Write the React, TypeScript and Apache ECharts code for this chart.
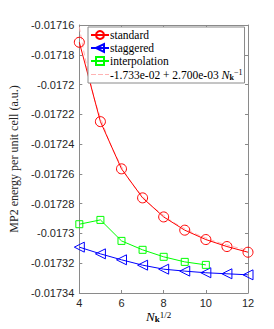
import React, { useEffect, useRef } from "react";
import * as echarts from "echarts";

const xs = [4, 5, 6, 7, 8, 9, 10, 11, 12];
const standard = [-0.0171716, -0.0172249, -0.0172566, -0.0172761, -0.0172889, -0.0172978, -0.0173041, -0.0173088, -0.0173126];
const staggered = [-0.0173092, -0.0173137, -0.0173177, -0.0173213, -0.017324, -0.0173253, -0.0173264, -0.0173271, -0.0173278];
const interpX = [4, 5, 6, 7, 8, 9, 10];
const interpolation = [-0.0172938, -0.0172909, -0.017305, -0.017311, -0.0173157, -0.0173191, -0.0173211];
const fitX = [4, 4.5, 5, 6, 7, 8, 9, 10, 11, 12];
const fitY = [-0.0171613, -0.0171967, -0.017222, -0.017255, -0.0172749, -0.0172878, -0.0172967, -0.017303, -0.0173077, -0.0173113];
const fitLabel = "-1.733e-02 + 2.700e-03";

const pair = (x: number[], y: number[]) => x.map((v, i) => [v, y[i]]);

export default function App() {
  const ref = useRef<HTMLDivElement>(null);
  useEffect(() => {
    const chart = echarts.init(ref.current!, null, { renderer: "svg" });
    const serif = "'Liberation Serif', 'DejaVu Serif', serif";
    const axisCol = "#8a8a8a";
    const tickLbl = { fontFamily: "'Liberation Sans', Arial, sans-serif", fontSize: 11, color: "#262626" };
    const dashIcon =
      "path://M0,0h0.01v0.01h-0.01zM0,4.5h5v1h-5zM7,4.5h5v1h-5zM14,4.5h4v1h-4zM17.99,9.99h0.01v0.01h-0.01z";
    chart.setOption({
      animation: false,
      backgroundColor: "#ffffff",
      grid: { left: 69, right: 26, top: 25, bottom: 36 },
      xAxis: [
        {
          type: "value", min: 4, max: 12, interval: 2,
          axisLine: { lineStyle: { color: axisCol } },
          axisTick: { inside: true, length: 3, lineStyle: { color: axisCol } },
          axisLabel: { ...tickLbl, margin: 4, lineHeight: 11 },
          splitLine: { show: false },
        },
        {
          type: "value", min: 4, max: 12, interval: 2, position: "top",
          axisLine: { lineStyle: { color: axisCol } },
          axisTick: { inside: true, length: 3, lineStyle: { color: axisCol } },
          axisLabel: { show: false }, splitLine: { show: false },
        },
      ],
      yAxis: [
        {
          type: "value", min: -0.01734, max: -0.01716, interval: 0.00002,
          axisLine: { show: true, lineStyle: { color: axisCol } },
          axisTick: { show: true, inside: true, length: 3, lineStyle: { color: axisCol } },
          axisLabel: { ...tickLbl, margin: 5, formatter: (v: number) => String(parseFloat(v.toFixed(5))) },
          splitLine: { show: false },
          name: "MP2 energy per unit cell (a.u.)",
          nameLocation: "middle", nameGap: 51,
          nameTextStyle: { fontFamily: serif, fontSize: 12, color: "#262626" },
        },
        {
          type: "value", min: -0.01734, max: -0.01716, interval: 0.00002, position: "right",
          axisLine: { show: true, lineStyle: { color: axisCol } },
          axisTick: { show: true, inside: true, length: 3, lineStyle: { color: axisCol } },
          axisLabel: { show: false }, splitLine: { show: false },
        },
      ],
      legend: {
        left: 88, top: 27, orient: "vertical",
        backgroundColor: "#ffffff",
        borderColor: axisCol, borderWidth: 1, borderRadius: 0,
        padding: [2, 2, 2, 2], itemGap: 1, itemWidth: 18, itemHeight: 10,
        textStyle: {
          fontFamily: serif, fontSize: 12, color: "#000", padding: [0, 0, 0, -4],
          rich: {
            t: { fontFamily: serif, fontSize: 11.5, color: "#000" },
            n: { fontFamily: serif, fontStyle: "italic", fontSize: 12, color: "#000" },
            k: { fontFamily: serif, fontWeight: "bold", fontSize: 8, color: "#000", verticalAlign: "bottom", padding: [5, 0, 0, 0] },
            s: { fontFamily: serif, fontSize: 8, color: "#000", verticalAlign: "top", padding: [0, 0, 5, 0] },
          },
        },
        formatter: (name: string) =>
          name === fitLabel ? `{t|${fitLabel} }{n|N}{k|k}{s|−1}` : `{t|${name}}`,
        data: [
          { name: "standard" },
          { name: "staggered" },
          { name: "interpolation" },
          { name: fitLabel, icon: dashIcon, itemStyle: { color: "#ffb3b3" } },
        ],
      },
      series: [
        {
          name: fitLabel, type: "line", data: pair(fitX, fitY), smooth: true, symbol: "none",
          lineStyle: { color: "#ffb3b3", width: 1, type: [5, 3] }, itemStyle: { color: "#ffb3b3" }, z: 1,
        },
        {
          name: "standard", type: "line", data: pair(xs, standard), symbol: "circle", symbolSize: 10,
          lineStyle: { color: "#ff0000", width: 1 },
          itemStyle: { color: "rgba(0,0,0,0)", borderColor: "#ff0000", borderWidth: 1 }, z: 3,
        },
        {
          name: "staggered", type: "line", data: pair(xs, staggered), symbol: "triangle", symbolSize: 10, symbolRotate: 90,
          lineStyle: { color: "#0000ff", width: 1 },
          itemStyle: { color: "rgba(0,0,0,0)", borderColor: "#0000ff", borderWidth: 1 }, z: 3,
        },
        {
          name: "interpolation", type: "line", data: pair(interpX, interpolation), symbol: "rect", symbolSize: 7,
          lineStyle: { color: "#00ff00", width: 1 },
          itemStyle: { color: "rgba(0,0,0,0)", borderColor: "#00ff00", borderWidth: 1 }, z: 3,
        },
      ],
      graphic: [
        {
          type: "text", left: 146, top: 310,
          style: {
            text: "{n|N}{k|k}{s|1/2}",
            rich: {
              n: { fontFamily: serif, fontStyle: "italic", fontSize: 13, color: "#262626" },
              k: { fontFamily: serif, fontWeight: "bold", fontSize: 9, color: "#262626", verticalAlign: "bottom", padding: [4, 0, 0, 0] },
              s: { fontFamily: serif, fontSize: 9, color: "#262626", verticalAlign: "top", padding: [0, 0, 4, 0] },
            },
          },
        },
      ],
    });
    return () => chart.dispose();
  }, []);
  return <div ref={ref} style={{ width: 274, height: 329, position: "absolute", left: 0, top: 0 }} />;
}
